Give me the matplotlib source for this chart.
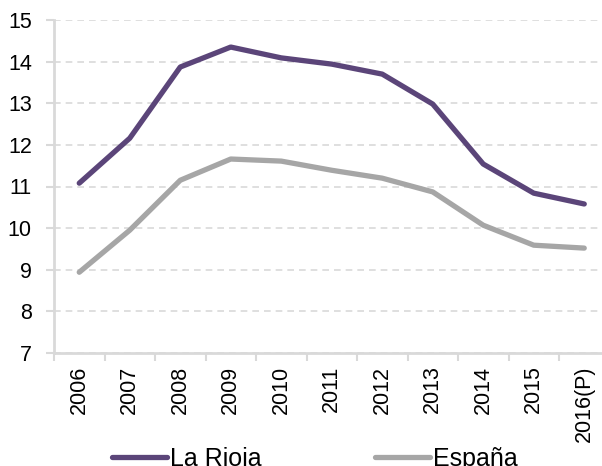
import matplotlib.pyplot as plt
import numpy as np

plt.rcParams['font.family'] = ['Liberation Sans', 'DejaVu Sans']

years = ["2006", "2007", "2008", "2009", "2010", "2011", "2012", "2013",
         "2014", "2015", "2016(P)"]
la_rioja = [11.08, 12.16, 13.87, 14.35, 14.09, 13.94, 13.70, 12.98,
            11.54, 10.84, 10.58]
espana = [8.94, 9.95, 11.15, 11.66, 11.61, 11.39, 11.20, 10.87,
          10.07, 9.59, 9.52]

purple = "#5b4579"
grey = "#a6a6a6"
axis_grey = "#d9d9d9"

fig = plt.figure(figsize=(6.02, 4.66), dpi=100)
ax = fig.add_axes([54 / 602, 1 - 353 / 466, 555.5 / 602, 333 / 466])

x = np.arange(len(years))
ax.plot(x, la_rioja, color=purple, lw=3.8, solid_capstyle="round",
        solid_joinstyle="round", label="La Rioja")
ax.plot(x, espana, color=grey, lw=3.8, solid_capstyle="round",
        solid_joinstyle="round", label="España")

ax.set_xlim(-0.5, len(years) - 0.5)
ax.set_ylim(7, 15)
ax.set_yticks(range(7, 16))
ax.grid(axis="y", color=axis_grey, ls=(0, (4, 3)), lw=1.2)
ax.set_axisbelow(True)

ax.set_xticks(x)
ax.set_xticklabels(years, rotation=90, fontsize=15.5)
ax.set_xticks(np.arange(-0.5, len(years), 1), minor=True)
ax.tick_params(axis="x", which="major", length=0, pad=9)
ax.tick_params(axis="x", which="minor", length=6, width=1.5, color=axis_grey)
ax.tick_params(axis="y", length=6, width=1.5, color=axis_grey, labelsize=15.5, pad=10)

for s in ["top", "right"]:
    ax.spines[s].set_visible(False)
for s in ["left", "bottom"]:
    ax.spines[s].set_color(axis_grey)
    ax.spines[s].set_linewidth(2)

fig.legend(loc="center", bbox_to_anchor=(0.523, 0.015), ncol=2, frameon=False,
           fontsize=18, handlelength=2.2, handletextpad=0.15, columnspacing=4.5)

fig.savefig("out.png", dpi=100)
